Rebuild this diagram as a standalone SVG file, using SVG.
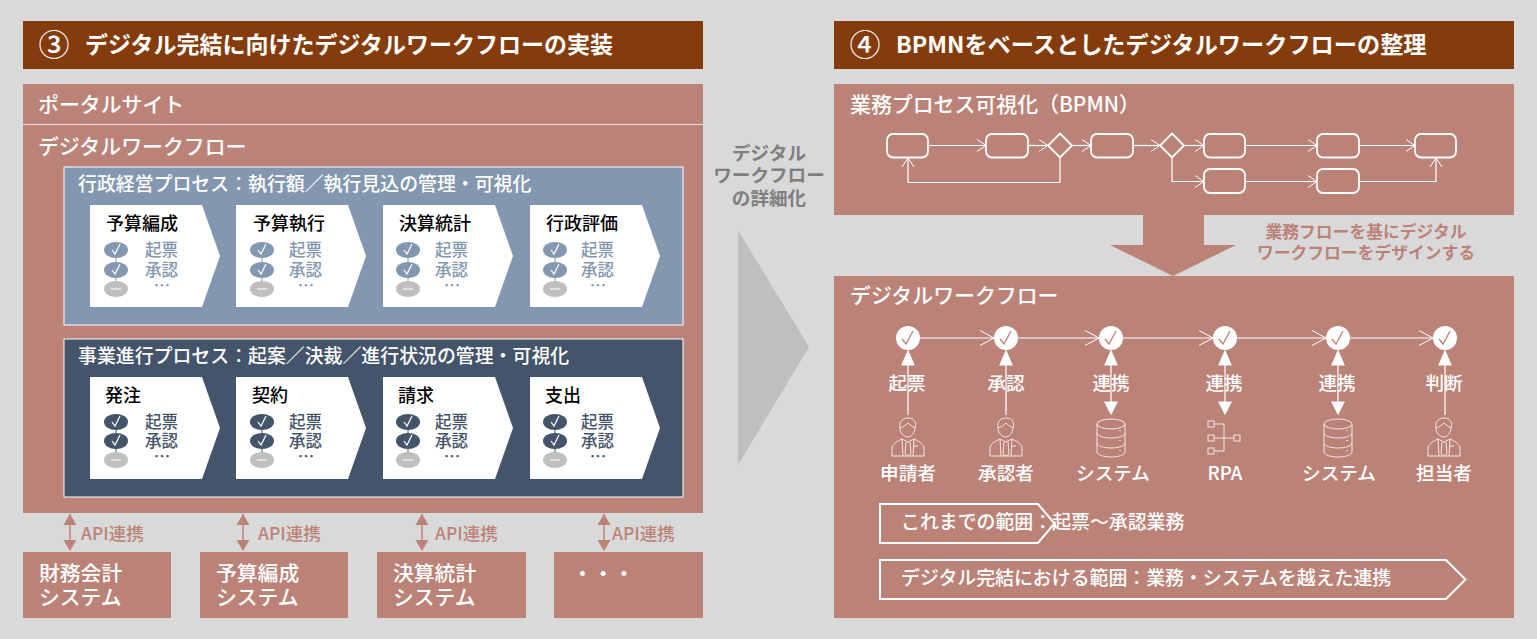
<svg xmlns="http://www.w3.org/2000/svg" xmlns:xlink="http://www.w3.org/1999/xlink" width="1537" height="639" viewBox="0 0 1537 639">
<style>
text{font-family:"Noto Sans CJK JP","Noto Sans",sans-serif;font-weight:500}
.w{fill:#fff}.b{font-weight:700}
.p{fill:#bb8378}.h{fill:#843c0c}
.t19{font-size:18.9px}.t21{font-size:20.9px}.t17{font-size:18px;fill:#000}
.lb{font-size:16.5px;fill:#8497b0}.ld{font-size:16.5px;fill:#44546a}
.m{text-anchor:middle}
.fl{fill:none;stroke:#fff;stroke-width:2}
.node{fill:none;stroke:#fff;stroke-width:1.8}
.ln{fill:none;stroke:#fff;stroke-width:1.2}
.ico{fill:none;stroke:#f3e6e3;stroke-width:1}
.lab{font-size:18.6px;fill:#fff;text-anchor:middle}
.sys{font-size:20.8px;fill:#fff}
.api{font-size:17.5px;fill:#bb8378}
.det{font-size:18.6px;fill:#7f7f7f;text-anchor:middle;font-weight:700}
.mid{font-size:16.8px;fill:#bb8378;text-anchor:middle;font-weight:700}
.scope{font-size:18.9px;fill:#fff}
</style>
<defs>
<marker id="open" markerUnits="userSpaceOnUse" markerWidth="12" markerHeight="14" refX="10" refY="7" orient="auto"><path d="M1,1 L10,7 L1,13" fill="none" stroke="#fff" stroke-width="1"/></marker>
<marker id="open2" markerUnits="userSpaceOnUse" markerWidth="18" markerHeight="18" refX="15" refY="9" orient="auto"><path d="M1,1.500 L15,9 L1,16.500" fill="none" stroke="#fff" stroke-width="1"/></marker>
<path id="card" d="M0,0H112L130,51L112,102H0Z" fill="#fff"/>
<g id="miniB"><path d="M0,0V39" stroke="#8497b0"/><ellipse cy="0" rx="12" ry="8" fill="#8497b0"/><ellipse cy="20" rx="12" ry="8" fill="#8497b0"/><ellipse cy="39" rx="12" ry="8" fill="#bfbfbf"/><path d="M-4,0L-1,4L4,-6M-4,20L-1,24L4,14M-5,39H5" fill="none" stroke="#fff" stroke-width="1.200"/></g>
<g id="miniD"><path d="M0,0V38" stroke="#44546a"/><ellipse cy="0" rx="12" ry="8" fill="#44546a"/><ellipse cy="19" rx="12" ry="8" fill="#44546a"/><ellipse cy="38" rx="12" ry="8" fill="#bfbfbf"/><path d="M-4,0L-1,4L4,-6M-4,19L-1,23L4,13M-5,38H5" fill="none" stroke="#fff" stroke-width="1.200"/></g>
<g id="chk"><circle r="12" fill="#fff"/><path d="M-6,1L-2,6L5,-7" fill="none" stroke="#bb8378" stroke-width="1.300"/></g>
<g id="person" class="ico"><path d="M-8,10C-9,3 -5,0 0,0C6,0 9,4 7,10C7,15 3,19 0,19C-4,19 -8,15 -8,10Z"/><path d="M-8,10C-5,9 -2,7 0,5C2,8 5,8 7,10"/><path d="M-16,38V31C-16,26 -12,24 -6,21L0,24L6,21C12,24 16,26 16,31V38Z"/><path d="M-2,24L-3,36L0,38L3,36L2,24M-6,21L-5,38M6,21L5,38M5,28H10"/></g>
<g id="db" class="ico"><ellipse cx="0" cy="5" rx="14" ry="5"/><path d="M-14,5V33C-14,36 -7,38 0,38C7,38 14,36 14,33V5M-14,14C-14,17 -7,19 0,19C7,19 14,17 14,14M-14,24C-14,27 -7,29 0,29C7,29 14,27 14,24"/><path d="M9,11v1M9,21v1M9,31v1" stroke-width="1.500"/></g>
<path id="uTip" d="M0,0L6,14H-6Z" fill="#fff"/>
<path id="dTip" d="M0,0L6,-12H-6Z" fill="#fff"/>
<g id="apiArrow"><path d="M0,1V37" stroke="#bb8378" stroke-width="1.500"/><path d="M0,1L6.500,12H-6.500ZM0,38L6.500,27H-6.500Z" fill="#bb8378"/></g>
</defs>
<rect width="1537" height="639" fill="#d9d9d9"/>

<g id="header-left"><rect class="h" x="23" y="21" width="680" height="48"/><text class="w" x="54" y="56" font-size="31" text-anchor="middle">③</text><text class="w b" x="85" y="53" font-size="23">デジタル完結に向けたデジタルワークフローの実装</text></g>
<g id="header-right"><rect class="h" x="834" y="21" width="680" height="48"/><text class="w" x="865" y="56" font-size="31" text-anchor="middle">④</text><text class="w b" x="896" y="53" font-size="23.200">BPMNをベースとしたデジタルワークフローの整理</text></g>

<g id="panel-left"><rect class="p" x="23" y="84" width="680" height="429"/><path d="M23,124.500H703" stroke="#fff" stroke-width="1" opacity=".75"/><text class="w t21" x="38" y="112">ポータルサイト</text><text class="w t21" x="38" y="154">デジタルワークフロー</text></g>

<g id="process-admin"><rect x="64" y="167" width="619" height="158" fill="#8497b0" stroke="#fff"/><text class="w t19" x="78" y="191">行政経営プロセス：執行額／執行見込の管理・可視化</text>
<g id="card-a1"><use href="#card" x="90" y="205"/><text class="t17" x="106" y="230">予算編成</text><use href="#miniB" x="116" y="250"/><text class="lb" x="145" y="256">起票</text><text class="lb" x="145" y="276">承認</text><text class="lb m" x="162" y="292">…</text></g>
<g id="card-a2"><use href="#card" x="236" y="205"/><text class="t17" x="253" y="230">予算執行</text><use href="#miniB" x="262" y="250"/><text class="lb" x="289" y="256">起票</text><text class="lb" x="289" y="276">承認</text><text class="lb m" x="306" y="292">…</text></g>
<g id="card-a3"><use href="#card" x="383" y="205"/><text class="t17" x="399" y="230">決算統計</text><use href="#miniB" x="408" y="250"/><text class="lb" x="435" y="256">起票</text><text class="lb" x="435" y="276">承認</text><text class="lb m" x="452" y="292">…</text></g>
<g id="card-a4"><use href="#card" x="530" y="205"/><text class="t17" x="546" y="230">行政評価</text><use href="#miniB" x="555" y="250"/><text class="lb" x="581" y="256">起票</text><text class="lb" x="581" y="276">承認</text><text class="lb m" x="598" y="292">…</text></g>
</g>

<g id="process-business"><rect x="64" y="339" width="619" height="158" fill="#44546a" stroke="#fff"/><text class="w t19" x="78" y="363">事業進行プロセス：起案／決裁／進行状況の管理・可視化</text>
<g id="card-b1"><use href="#card" x="90" y="377"/><text class="t17" x="105" y="402">発注</text><use href="#miniD" x="116" y="422"/><text class="ld" x="145" y="428">起票</text><text class="ld" x="145" y="447">承認</text><text class="ld m" x="162" y="463">…</text></g>
<g id="card-b2"><use href="#card" x="236" y="377"/><text class="t17" x="252" y="402">契約</text><use href="#miniD" x="262" y="422"/><text class="ld" x="289" y="428">起票</text><text class="ld" x="289" y="447">承認</text><text class="ld m" x="306" y="463">…</text></g>
<g id="card-b3"><use href="#card" x="383" y="377"/><text class="t17" x="398" y="402">請求</text><use href="#miniD" x="408" y="422"/><text class="ld" x="435" y="428">起票</text><text class="ld" x="435" y="447">承認</text><text class="ld m" x="452" y="463">…</text></g>
<g id="card-b4"><use href="#card" x="530" y="377"/><text class="t17" x="545" y="402">支出</text><use href="#miniD" x="555" y="422"/><text class="ld" x="581" y="428">起票</text><text class="ld" x="581" y="447">承認</text><text class="ld m" x="598" y="463">…</text></g>
</g>

<g id="sys-1"><rect class="p" x="23" y="552" width="148" height="66"/><text class="sys" x="39" y="581">財務会計</text><text class="sys" x="39" y="605">システム</text></g>
<g id="sys-2"><rect class="p" x="200" y="552" width="148" height="66"/><text class="sys" x="216" y="581">予算編成</text><text class="sys" x="216" y="605">システム</text></g>
<g id="sys-3"><rect class="p" x="377" y="552" width="149" height="66"/><text class="sys" x="393" y="581">決算統計</text><text class="sys" x="393" y="605">システム</text></g>
<g id="sys-4"><rect class="p" x="554" y="552" width="149" height="66"/><text class="sys" x="572" y="581">・・・</text></g>

<g id="api-links"><use href="#apiArrow" x="70" y="513"/><text class="api" x="81" y="540">API連携</text><use href="#apiArrow" x="243" y="513"/><text class="api" x="258" y="540">API連携</text><use href="#apiArrow" x="422" y="513"/><text class="api" x="435" y="540">API連携</text><use href="#apiArrow" x="604" y="513"/><text class="api" x="612" y="540">API連携</text></g>

<g id="detail-arrow"><text class="det" x="769" y="160">デジタル</text><text class="det" x="769" y="182">ワークフロー</text><text class="det" x="769" y="205">の詳細化</text><path d="M738,230L809,347L738,465Z" fill="#bfbfbf"/></g>

<g id="panel-bpmn"><rect class="p" x="834" y="84" width="680" height="131"/><text class="w t21" x="850" y="112">業務プロセス可視化（BPMN）</text></g>
<g id="bpmn-nodes" class="node">
<rect id="b1" x="887" y="134" width="41" height="23.500" rx="6"/><rect id="b2" x="986" y="134" width="42" height="23.500" rx="6"/><path id="g1" d="M1060,133.500L1072,145.500L1060,157.500L1048,145.500Z"/><rect id="b3" x="1091" y="134" width="42" height="23.500" rx="6"/><path id="g2" d="M1172,133.500L1184,145.500L1172,157.500L1160,145.500Z"/><rect id="b4" x="1204" y="134" width="41" height="23.500" rx="6"/><rect id="b5" x="1317" y="134" width="42" height="23.500" rx="6"/><rect id="b6" x="1415" y="134" width="41" height="23.500" rx="6"/><rect id="b7" x="1204" y="169" width="41" height="24" rx="6"/><rect id="b8" x="1317" y="169" width="42" height="24" rx="6"/>
</g>
<g id="bpmn-connectors" class="ln">
<path d="M928,145.500H986" marker-end="url(#open)"/><path d="M1028,145.500H1048" marker-end="url(#open)"/><path d="M1072,145.500H1091" marker-end="url(#open)"/><path d="M1133,145.500H1160" marker-end="url(#open)"/><path d="M1184,145.500H1204" marker-end="url(#open)"/><path d="M1245,145.500H1317" marker-end="url(#open)"/><path d="M1359,145.500H1415" marker-end="url(#open)"/><path d="M1060,157.500V182.500H908V158" marker-end="url(#open)"/><path d="M1172,157.500V181.500H1204" marker-end="url(#open)"/><path d="M1245,181.500H1317" marker-end="url(#open)"/><path d="M1359,181.500H1436V158" marker-end="url(#open)"/>
</g>

<g id="down-arrow"><path class="p" d="M1143,215H1204V245H1236L1173,276L1110,245H1143Z"/><text class="mid" x="1366" y="238">業務フローを基にデジタル</text><text class="mid" x="1366" y="259">ワークフローをデザインする</text></g>

<g id="panel-workflow"><rect class="p" x="834" y="276" width="680" height="342"/><text class="w t21" x="850" y="303">デジタルワークフロー</text></g>

<g id="workflow-connectors" class="ln">
<path d="M920,338H994" marker-end="url(#open2)"/><path d="M1018,338H1099" marker-end="url(#open2)"/><path d="M1123,338H1213" marker-end="url(#open2)"/><path d="M1237,338H1326" marker-end="url(#open2)"/><path d="M1350,338H1433" marker-end="url(#open2)"/>
<path d="M908,415V355M1006,415V355M1111,405V355M1225,405V355M1338,405V355M1445,415V355"/>
<use href="#uTip" x="908" y="351"/><use href="#uTip" x="1006" y="351"/><use href="#uTip" x="1111" y="351"/><use href="#uTip" x="1225" y="351"/><use href="#uTip" x="1338" y="351"/><use href="#uTip" x="1445" y="351"/>
<use href="#dTip" x="1111" y="414"/><use href="#dTip" x="1225" y="414"/><use href="#dTip" x="1338" y="414"/>
</g>

<g id="wf-1"><use href="#chk" x="908" y="338"/><text class="lab" x="907" y="390">起票</text><use href="#person" x="908" y="418"/><text class="lab" x="908" y="480">申請者</text></g>
<g id="wf-2"><use href="#chk" x="1006" y="338"/><text class="lab" x="1006" y="390">承認</text><use href="#person" x="1006" y="418"/><text class="lab" x="1006" y="480">承認者</text></g>
<g id="wf-3"><use href="#chk" x="1111" y="338"/><text class="lab" x="1111" y="390">連携</text><use href="#db" x="1111" y="419"/><text class="lab" x="1113" y="480">システム</text></g>
<g id="wf-4"><use href="#chk" x="1225" y="338"/><text class="lab" x="1224" y="390">連携</text><g class="ico"><rect x="1208" y="421" width="6" height="6"/><rect x="1208" y="435" width="6" height="6"/><rect x="1208" y="448" width="6" height="6"/><rect x="1234" y="435" width="6" height="6"/><path d="M1214,424H1224V451H1214M1214,438H1234"/></g><text class="lab" x="1225" y="480">RPA</text></g>
<g id="wf-5"><use href="#chk" x="1338" y="338"/><text class="lab" x="1337" y="390">連携</text><use href="#db" x="1338" y="419"/><text class="lab" x="1339" y="480">システム</text></g>
<g id="wf-6"><use href="#chk" x="1445" y="338"/><text class="lab" x="1444" y="390">判断</text><use href="#person" x="1444" y="418"/><text class="lab" x="1444" y="480">担当者</text></g>

<g id="scope-1"><path class="fl" d="M880,504H1038L1054.500,523.500L1038,543H880Z"/><text class="scope" x="901" y="529">これまでの範囲：起票～承認業務</text></g>
<g id="scope-2"><path class="fl" d="M880,560H1446L1465.500,579.500L1446,599H880Z"/><text class="scope" x="901" y="585">デジタル完結における範囲：業務・システムを越えた連携</text></g>
</svg>
